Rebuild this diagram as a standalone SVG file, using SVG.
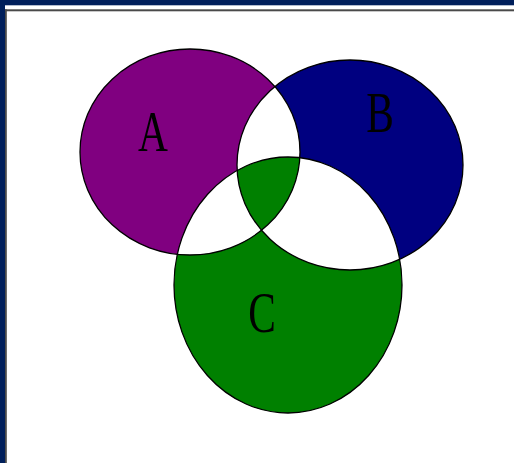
<svg xmlns="http://www.w3.org/2000/svg" width="514" height="463" viewBox="0 0 514 463">
<style>
.lbl{font-family:"Liberation Serif","Times New Roman",serif;font-size:56px;fill:#000;text-anchor:middle}
.edge{fill:none;stroke:#000;stroke-width:1.3}
</style>
<defs>
<clipPath id="cA"><ellipse cx="190" cy="152" rx="110" ry="103"/></clipPath>
<clipPath id="cB"><ellipse cx="350" cy="165" rx="113" ry="105"/></clipPath>
<clipPath id="cC"><ellipse cx="288" cy="285" rx="114" ry="128"/></clipPath>
</defs>
<rect x="0" y="0" width="514" height="463" fill="#fff"/>
<g id="frame">
<rect x="0" y="0" width="514" height="5.3" fill="#001f5b"/>
<rect x="0" y="0" width="5" height="463" fill="#001f5b"/>
<rect x="5" y="9.3" width="509" height="2" fill="#4a4a4a"/>
<rect x="5" y="9.3" width="1.8" height="454" fill="#4a4a4a"/>
</g>
<g id="fills">
<ellipse id="fillA" cx="190" cy="152" rx="110" ry="103" fill="#800080"/>
<ellipse id="fillB" cx="350" cy="165" rx="113" ry="105" fill="#000080"/>
<ellipse id="fillC" cx="288" cy="285" rx="114" ry="128" fill="#008000"/>
<g clip-path="url(#cA)">
<ellipse cx="350" cy="165" rx="113" ry="105" fill="#fff"/>
<ellipse cx="288" cy="285" rx="114" ry="128" fill="#fff"/>
</g>
<g clip-path="url(#cB)">
<ellipse cx="288" cy="285" rx="114" ry="128" fill="#fff"/>
</g>
<g clip-path="url(#cA)"><g clip-path="url(#cB)">
<ellipse cx="288" cy="285" rx="114" ry="128" fill="#008000"/>
</g></g>
</g>
<g id="A">
<ellipse class="edge" cx="190" cy="152" rx="110" ry="103"/>
<text class="lbl" transform="translate(153,151) scale(0.74,1)">A</text>
</g>
<g id="B">
<ellipse class="edge" cx="350" cy="165" rx="113" ry="105"/>
<text class="lbl" transform="translate(380,132) scale(0.74,1)">B</text>
</g>
<g id="C">
<ellipse class="edge" cx="288" cy="285" rx="114" ry="128"/>
<text class="lbl" transform="translate(262,332) scale(0.74,1)">C</text>
</g>
<g id="connectors"></g>
</svg>
